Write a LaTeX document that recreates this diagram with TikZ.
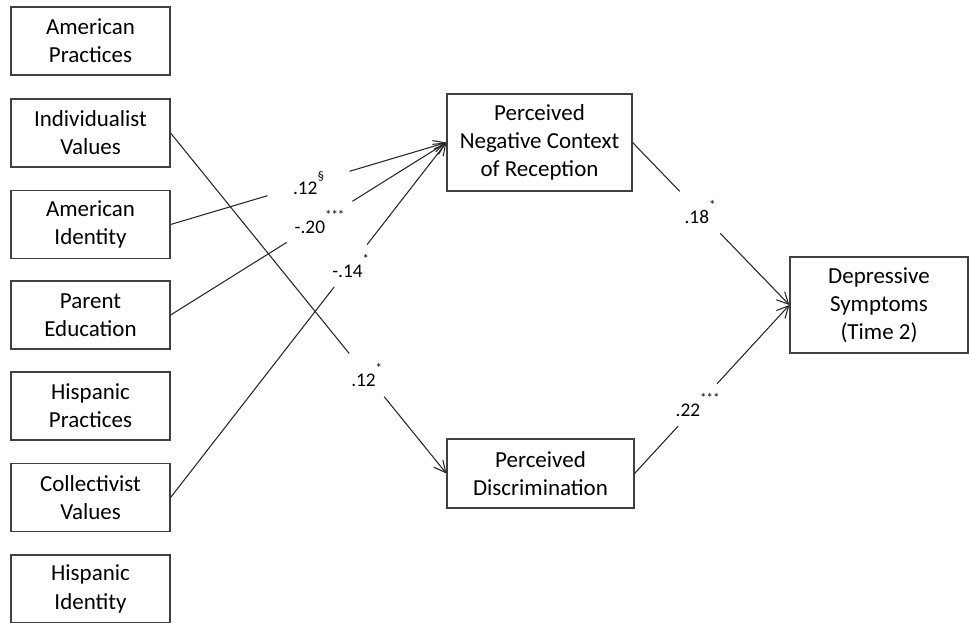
\documentclass[tikz,border=0pt]{standalone}
\usepackage{fontspec}
\setmainfont{Carlito}
\usetikzlibrary{arrows.meta}
\newcommand{\sig}[1]{\raisebox{12pt}{\fontsize{11}{11}\selectfont #1}}
\begin{document}
\begin{tikzpicture}[x=0.03cm,y=-0.03cm,
  var/.style={draw=black!75,line width=1pt,inner sep=0pt,align=center,minimum width=4.77cm,minimum height=2.04cm,font=\fontsize{19.6}{24}\selectfont},
  coef/.style={circle,inner sep=0pt,minimum size=#1,font=\fontsize{16.5}{18}\selectfont},
  link/.style={line width=0.9pt,black!85},
  arr/.style={link,-{Straight Barb[length=10pt,width=10pt]}}]
\useasboundingbox (0,0) rectangle (969,623);
\node[var] (ap) at (90.5,41) {American\\Practices};
\node[var] (iv) at (90.5,133) {Individualist\\Values};
\node[var] (ai) at (90.5,224.5) {American\\Identity};
\node[var] (pe) at (90.5,315) {Parent\\Education};
\node[var] (hp) at (90.5,406) {Hispanic\\Practices};
\node[var] (cv) at (90.5,497.5) {Collectivist\\Values};
\node[var] (hi) at (90.5,589) {Hispanic\\Identity};
\node[var,minimum width=5.55cm,minimum height=2.91cm] (ncr) at (539.5,142.5) {Perceived\\Negative Context\\of Reception};
\node[var,minimum width=5.61cm,minimum height=2.07cm] (dis) at (540.5,473.5) {Perceived\\Discrimination};
\node[var,minimum width=5.34cm,minimum height=2.88cm] (dep) at (879,305) {Depressive\\Symptoms\\(Time 2)};
\path (ai.east) -- node[coef=2.55cm,pos=.5] (c1) {.12\sig{\S}} (ncr.west);
\draw[link] (ai.east) -- (c1);
\draw[arr] (c1) -- (ncr.west);
\path (pe.east) -- node[coef=2.31cm,pos=.54] (c2) {-.20\sig{***}} (ncr.west);
\draw[link] (pe.east) -- (c2);
\draw[arr] (c2) -- (ncr.west);
\path (cv.east) -- node[coef=1.59cm,pos=.653] (c3) {-.14\sig{*}} (ncr.west);
\draw[link] (cv.east) -- (c3);
\draw[arr] (c3) -- (ncr.west);
\path (iv.east) -- node[coef=1.65cm,pos=.711] (c4) {.12\sig{*}\hspace{0.5cm}} (dis.west);
\draw[link] (iv.east) -- (c4);
\draw[arr] (c4) -- (dis.west);
\path (ncr.east) -- node[coef=1.74cm,pos=.43] (c5) {.18\sig{*}} (dep.west);
\draw[link] (ncr.east) -- (c5);
\draw[arr] (c5) -- (dep.west);
\path (dis.east) -- node[coef=1.71cm,pos=.407] (c6) {.22\sig{***}} (dep.west);
\draw[link] (dis.east) -- (c6);
\draw[arr] (c6) -- (dep.west);
\end{tikzpicture}
\end{document}
